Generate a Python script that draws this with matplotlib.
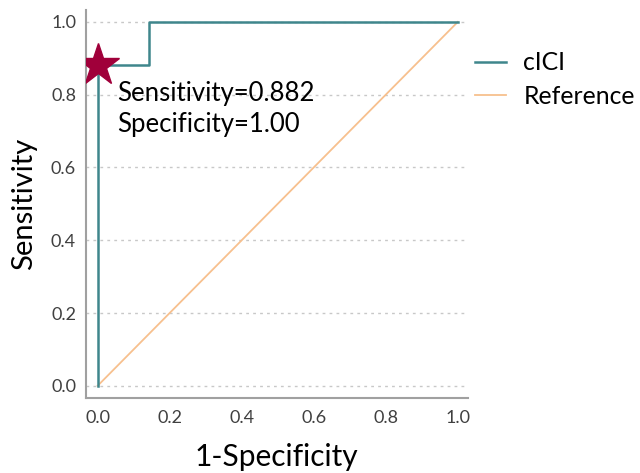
import matplotlib
matplotlib.use("Agg")
import matplotlib.pyplot as plt
from matplotlib.ticker import FixedLocator

fpr = [0.0, 0.0, 0.143, 0.143, 1.0]
tpr = [0.0, 0.882, 0.882, 1.0, 1.0]
ref_x = [0.0, 1.0]
ref_y = [0.0, 1.0]
cut_x = 0.0
cut_y = 0.882
ticks = [0.0, 0.2, 0.4, 0.6, 0.8, 1.0]
tick_labels = ["0.0", "0.2", "0.4", "0.6", "0.8", "1.0"]
series_names = ["cICI", "Reference"]
annot = "Sensitivity=0.882\nSpecificity=1.00"

plt.rcParams['font.family'] = ['Lato', 'DejaVu Sans']

fig = plt.figure(figsize=(6.4, 4.73), dpi=100)
ax = fig.add_axes([0.134, 0.159, 0.597, 0.820])

teal = "#3F868C"
orange = "#F7C08E"

ax.plot(fpr, tpr, color=teal, lw=1.8, label=series_names[0], zorder=3)
ax.plot(ref_x, ref_y, color=orange, lw=1.3, label=series_names[1], zorder=2)
ax.plot([cut_x], [cut_y], marker="*", color="#A0003A", markersize=32, ls="none", zorder=4)
ax.text(0.055, 0.838, annot, fontsize=18.5, va="top", ha="left", linespacing=1.33, color="black")

ax.set_xlim(-0.033, 1.028)
ax.set_ylim(-0.033, 1.033)
ax.xaxis.set_major_locator(FixedLocator(ticks))
ax.yaxis.set_major_locator(FixedLocator(ticks))
ax.set_xticklabels(tick_labels)
ax.set_yticklabels(tick_labels)
ax.tick_params(length=0, labelsize=13, colors="#404040")
ax.tick_params(axis="x", pad=9)
ax.tick_params(axis="y", pad=7)
for t in ticks:
    ax.axhline(t, color="#c8c8c8", lw=1.0, ls=(0, (2, 3)), zorder=1)
for s in ["top", "right"]:
    ax.spines[s].set_visible(False)
for s in ["left", "bottom"]:
    ax.spines[s].set_color("#a0a0a0")
    ax.spines[s].set_linewidth(1.5)

ax.set_xlabel("1-Specificity", fontsize=21.5, labelpad=12)
ax.set_ylabel("Sensitivity", fontsize=21, labelpad=10)

leg = ax.legend(loc="upper left", bbox_to_anchor=(1.0, 0.912), frameon=False,
                fontsize=17.8, handlelength=1.25, handletextpad=0.7, labelspacing=0.42,
                borderaxespad=0.1, borderpad=0.2)

fig.savefig("out.png", dpi=100)
